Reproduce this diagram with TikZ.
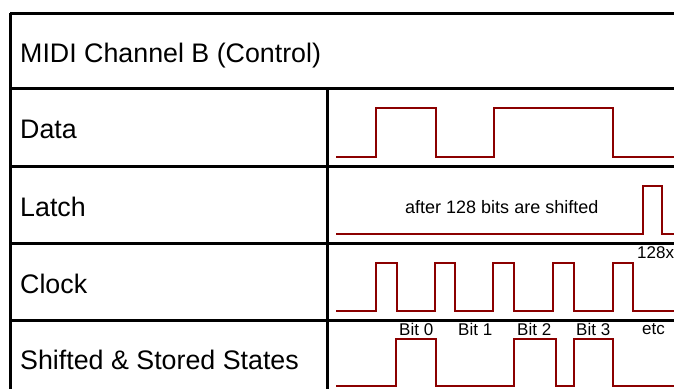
\documentclass[tikz,border=0pt]{standalone}
\usepackage{fontspec}
\setmainfont{Liberation Sans}
\definecolor{wavered}{RGB}{139,0,0}
\begin{document}
\begin{tikzpicture}[x=1pt,y=-1pt,
  gridline/.style={line width=3pt,black},
  wave/.style={line width=2.5pt,wavered,line join=miter},
  bigtext/.style={font=\fontsize{26.8}{30}\selectfont,anchor=base west,inner sep=0pt},
  midtext/.style={font=\fontsize{18}{20}\selectfont,anchor=base west,inner sep=0pt},
  smalltext/.style={font=\fontsize{17}{19}\selectfont,anchor=base west,inner sep=0pt}]
\useasboundingbox (0,0) rectangle (674,388);
\clip (0,0) rectangle (674,388);
% grid
\draw[gridline] (10,13) -- (680,13);
\draw[gridline] (10,13) -- (10,395);
\draw[gridline] (10,88) -- (680,88);
\draw[gridline] (10,166) -- (680,166);
\draw[gridline] (10,243) -- (680,243);
\draw[gridline] (10,320) -- (680,320);
\draw[gridline] (327,88) -- (327,395);
% labels
\node[bigtext] (title) at (20,62) {MIDI Channel B (Control)};
\node[bigtext] (data) at (20,138) {Data};
\node[bigtext] (latch) at (20,216) {Latch};
\node[bigtext] (clock) at (20,293) {Clock};
\node[bigtext] (stored) at (20,369) {Shifted \& Stored States};
\node[midtext] (after) at (405,213) {after 128 bits are shifted};
\node[smalltext] (n128) at (637,258) {128x};
\node[smalltext] (b0) at (399,335) {Bit 0};
\node[smalltext] (b1) at (458,335) {Bit 1};
\node[smalltext] (b2) at (517,335) {Bit 2};
\node[smalltext] (b3) at (576,335) {Bit 3};
\node[smalltext] (etc) at (642,334) {etc};
% waves
\draw[wave] (336,157) -- (376,157) -- (376,108) -- (436,108) -- (436,157) -- (494,157) -- (494,108) -- (613,108) -- (613,157) -- (680,157);
\draw[wave] (336,234) -- (643,234) -- (643,186) -- (662,186) -- (662,234) -- (680,234);
\draw[wave] (336,311) -- (376,311) -- (376,263) -- (397,263) -- (397,311)
  -- (435,311) -- (435,263) -- (455,263) -- (455,311)
  -- (493,311) -- (493,263) -- (514,263) -- (514,311)
  -- (553,311) -- (553,263) -- (574,263) -- (574,311)
  -- (613,311) -- (613,263) -- (633,263) -- (633,311) -- (680,311);
\draw[wave] (336,386) -- (396,386) -- (396,339) -- (436,339) -- (436,386) -- (514,386) -- (514,339) -- (556,339) -- (556,386) -- (574,386) -- (574,339) -- (613,339) -- (613,386) -- (680,386);
\end{tikzpicture}
\end{document}
